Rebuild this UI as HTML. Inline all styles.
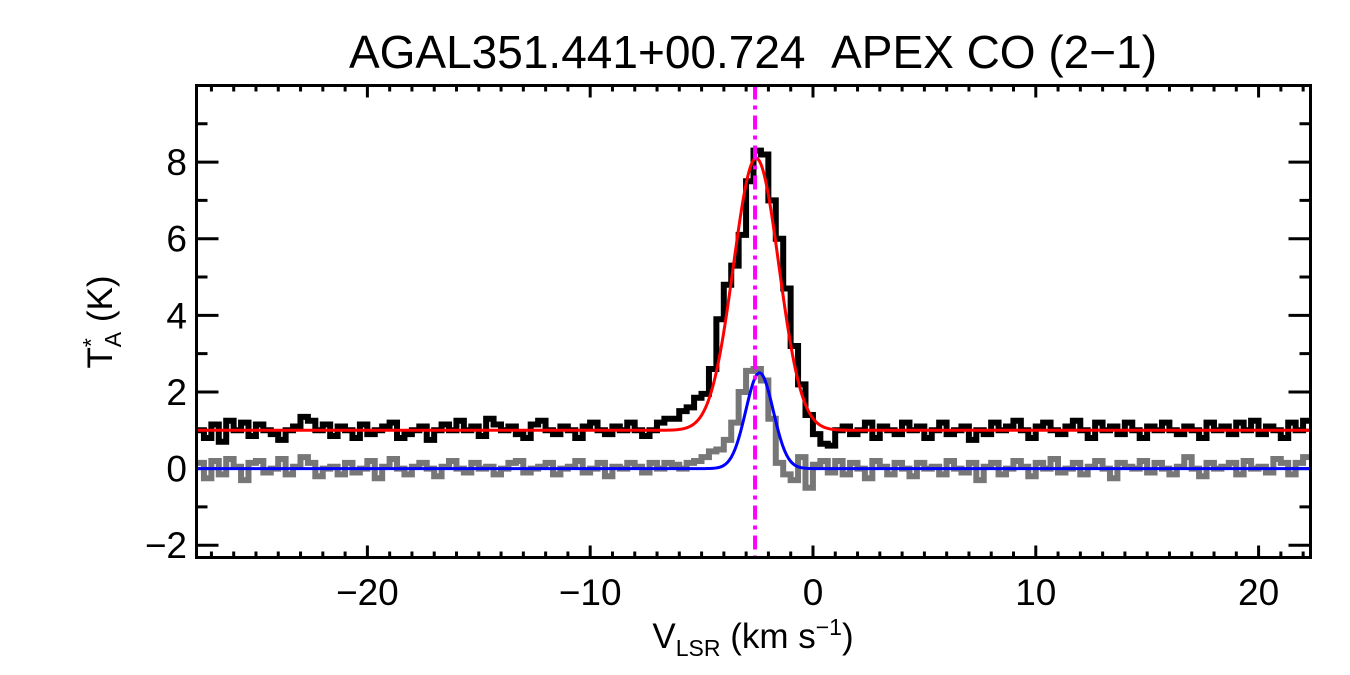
<!DOCTYPE html>
<html><head><meta charset="utf-8"><style>
body{margin:0;background:#fff;}
svg{display:block;font-family:"Liberation Sans",Arial,sans-serif;}
</style></head><body>
<svg id="chart" width="1350" height="675">
<text x="753" y="68" font-size="46" text-anchor="middle">AGAL351.441+00.724&#160;&#160;APEX CO (2−1)</text>
<g id="ticks"></g>
<g id="series"></g>
<rect x="196.5" y="85.5" width="1114" height="472" fill="none" stroke="#000" stroke-width="3"/>
<text x="753" y="648" font-size="35" text-anchor="middle">V<tspan font-size="23" dy="8">LSR</tspan><tspan dy="-8"> (km s</tspan><tspan font-size="23" dy="-13">−1</tspan><tspan dy="13">)</tspan></text>
<g transform="translate(112,322) rotate(-90)"><text x="0" y="0" font-size="35" text-anchor="middle">T<tspan font-size="23" dy="-13">*</tspan><tspan font-size="23" dx="-9" dy="22">A</tspan><tspan dy="-9"> (K)</tspan></text></g>
</svg>
<script>
const xMin=-27.67,xMax=22.33,yMin=-2.32,yMax=10.0;
const chanStart=-27.67, chanWidth=50/150;
const blackData=[1.0,0.8,1.15,0.7,1.25,1.0,1.2,0.85,1.15,1.0,0.9,0.75,1.0,1.1,1.35,1.25,1.0,1.15,0.85,1.1,1.0,0.8,1.15,0.9,1.0,1.1,1.2,0.8,0.9,1.0,1.1,0.75,1.0,1.15,1.0,1.25,1.0,1.1,0.85,1.3,1.15,1.0,1.1,0.9,0.8,1.15,1.25,1.0,0.9,1.1,1.0,0.8,1.1,1.2,1.0,0.9,1.1,1.0,1.2,1.0,0.85,1.0,1.2,1.3,
1.3,1.5,1.6,1.85,1.95,2.6,3.9,4.8,5.3,6.1,7.5,8.3,8.2,7.0,6.0,4.7,3.2,2.2,1.4,0.9,0.65,0.6,1.0,
1.1,0.9,1.0,1.2,0.8,1.1,1.0,0.9,1.2,1.0,1.1,0.8,1.0,1.2,0.9,1.0,1.1,0.75,1.0,0.9,1.2,1.0,1.1,1.25,1.0,0.8,1.1,1.2,1.0,0.9,1.1,1.25,1.0,0.8,1.2,1.0,1.1,0.9,1.2,1.0,0.8,1.1,1.0,1.2,1.0,0.9,1.1,1.0,0.8,1.2,1.0,1.1,0.9,1.2,1.0,1.25,0.9,1.1,1.0,0.8,1.2,1.0,1.25];
const grayData=[0.15,-0.25,0.2,-0.15,0.25,0.05,-0.3,0.15,0.2,-0.1,0.0,0.25,-0.15,0.05,0.3,0.15,-0.2,0.0,0.05,-0.15,0.15,-0.1,0.0,0.2,-0.25,0.05,0.25,0.0,-0.15,0.05,0.15,0.0,-0.2,0.05,0.2,0.0,-0.1,0.15,0.0,0.05,-0.15,0.0,0.15,0.2,-0.1,0.0,0.05,0.15,-0.15,0.0,0.05,0.2,-0.1,0.0,0.15,-0.2,0.05,0.0,0.15,0.05,-0.1,0.15,0.0,0.15,
0.1,0.0,0.15,0.2,0.3,0.45,0.5,0.75,1.2,2.0,2.55,2.6,2.3,1.3,0.15,-0.15,-0.3,0.3,-0.5,0.1,0.2,-0.1,0.2,
-0.15,0.15,0.0,-0.25,0.2,0.05,-0.15,0.15,0.0,-0.2,0.15,0.0,0.05,-0.15,0.2,0.0,-0.1,0.15,-0.3,0.05,0.15,-0.15,0.0,0.2,0.05,-0.2,0.15,0.0,0.25,-0.1,0.0,0.15,-0.15,0.05,0.2,0.0,-0.25,0.15,0.05,0.0,0.2,-0.1,0.15,0.0,-0.15,0.05,0.3,0.0,-0.2,0.15,0.0,0.05,0.15,-0.15,0.2,0.0,0.05,-0.1,0.25,0.15,-0.15,0.15,0.3];
const redFit=[1.0,7.1,-2.55,2.4];   // baseline, amplitude, center, FWHM
const blueFit=[0.0,2.5,-2.4,1.45];
const markerV=[-2.6];
const xTickLabels=[-20,-10,0,10,20];
const yTickLabels=[-2,0,2,4,6,8];
const L=196.5,R=1310.5,T=85.5,B=557.5;
const sx=v=>L+(v-xMin)/(xMax-xMin)*(R-L);
const sy=v=>B-(v-yMin)/(yMax-yMin)*(B-T);
const NS="http://www.w3.org/2000/svg";
function mk(tag,attrs,parent){const e=document.createElementNS(NS,tag);for(const k in attrs)e.setAttribute(k,attrs[k]);parent.appendChild(e);return e;}
const tg=document.getElementById('ticks'), sg=document.getElementById('series');
let d='';
for(let v=Math.ceil(xMin);v<=xMax;v++){const x=sx(v);const len=v%10===0?12:6;d+=`M${x},${B}v${-len}M${x},${T}v${len}`;}
for(let v=Math.ceil(yMin);v<=yMax;v++){const y=sy(v);const len=v%2===0?22:11;d+=`M${L},${y}h${len}M${R},${y}h${-len}`;}
const tp=mk('path',{d:d,stroke:'#000','stroke-width':3,fill:'none'},tg);


xTickLabels.forEach(v=>{const t=mk('text',{x:sx(v),y:605,'font-size':37,'text-anchor':'middle'},tg);t.textContent=v<0?'−'+(-v):v;

});
yTickLabels.forEach(v=>{const t=mk('text',{x:187,y:sy(v)+13,'font-size':37,'text-anchor':'end'},tg);t.textContent=v<0?'−'+(-v):v;

});
function stepPath(arr){let p='';arr.forEach((v,i)=>{const x0=sx(chanStart+i*chanWidth),x1=sx(chanStart+(i+1)*chanWidth),y=sy(v);p+=(i===0?`M${x0},${y}`:`L${x0},${y}`)+`L${Math.min(x1,R)},${y}`;});return p;}
const gp=mk('path',{d:stepPath(grayData),stroke:'#777','stroke-width':6,fill:'none'},sg);


const bp=mk('path',{d:stepPath(blackData),stroke:'#000','stroke-width':6,fill:'none'},sg);


function gaussPath(p){const s=p[3]/2.3548;let q='';for(let x=L;x<=R;x+=1){const v=xMin+(x-L)/(R-L)*(xMax-xMin);const y=p[0]+p[1]*Math.exp(-0.5*((v-p[2])/s)**2);q+=(x===L?'M':'L')+x+','+sy(y);}return q;}
const rp=mk('path',{d:gaussPath(redFit),stroke:'#f00','stroke-width':3,fill:'none'},sg);


const blp=mk('path',{d:gaussPath(blueFit),stroke:'#00f','stroke-width':3,fill:'none'},sg);


markerV.forEach(v=>{const m=mk('line',{x1:sx(v),x2:sx(v),y1:T,y2:B,stroke:'#f0f','stroke-width':4,'stroke-dasharray':'14,6,4,6'},sg);

});
</script>
</body></html>
